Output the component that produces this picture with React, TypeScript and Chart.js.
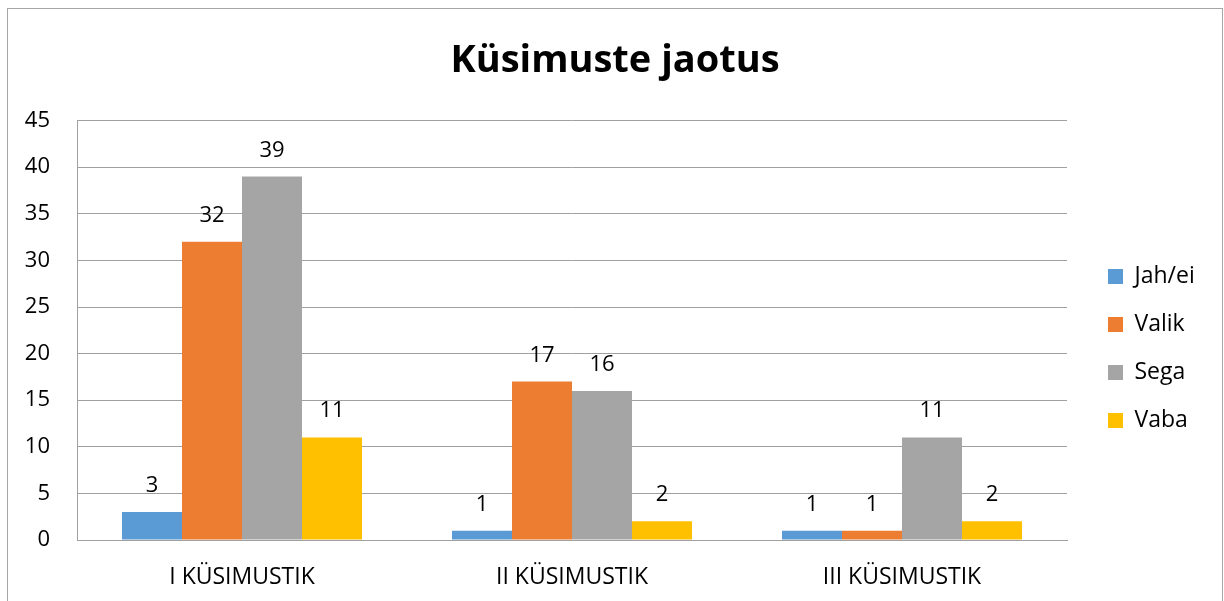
import React, { useEffect, useRef } from "react";
import { Chart, registerables } from "chart.js";

Chart.register(...registerables);

const categories = ["I KÜSIMUSTIK", "II KÜSIMUSTIK", "III KÜSIMUSTIK"];
const seriesNames = ["Jah/ei", "Valik", "Sega", "Vaba"];
const jahEi = [3, 1, 1];
const valik = [32, 17, 1];
const sega = [39, 16, 11];
const vaba = [11, 2, 2];
const seriesColors = ["#5B9BD5", "#ED7D31", "#A5A5A5", "#FFC000"];
const yTicks = [0, 5, 10, 15, 20, 25, 30, 35, 40, 45];

const FONT = "'Open Sans', 'Noto Sans', sans-serif";
const CANVAS_W = 1214;
const CANVAS_H = 592;
const LEGEND_W = 139;

const dataLabelPlugin = {
  id: "dataLabels",
  afterDatasetsDraw(chart: any) {
    const ctx = chart.ctx;
    ctx.save();
    ctx.font = `22px ${FONT}`;
    ctx.fillStyle = "#000000";
    ctx.textAlign = "center";
    ctx.textBaseline = "alphabetic";
    chart.data.datasets.forEach((ds: any, i: number) => {
      const meta = chart.getDatasetMeta(i);
      meta.data.forEach((el: any, j: number) => {
        ctx.fillText(String(ds.data[j]), el.x, el.y - 20);
      });
    });
    ctx.restore();
  },
};

const legendWidthPlugin = {
  id: "legendWidth",
  beforeUpdate(chart: any) {
    const lg = chart.legend;
    if (lg && !lg.__patched) {
      const orig = lg.fit;
      lg.fit = function () {
        orig.call(this);
        if (!this.isHorizontal()) this.width = LEGEND_W;
      };
      lg.__patched = true;
    }
  },
};

export default function App() {
  const ref = useRef<HTMLCanvasElement | null>(null);

  useEffect(() => {
    if (!ref.current) return;
    const seriesData = [jahEi, valik, sega, vaba];
    const chart = new Chart(ref.current, {
      type: "bar",
      data: {
        labels: categories,
        datasets: seriesNames.map((name, i) => ({
          label: name,
          data: seriesData[i],
          backgroundColor: seriesColors[i],
          borderWidth: 0,
          categoryPercentage: 0.7273,
          barPercentage: 1,
        })),
      },
      options: {
        animation: false,
        responsive: false,
        layout: { padding: { left: 0, right: 0, top: 0, bottom: 0 } },
        plugins: {
          title: {
            display: true,
            text: "Küsimuste jaotus",
            color: "#000000",
            font: { family: FONT, size: 38, weight: "bold" },
            padding: { top: 29, bottom: 37 },
          },
          legend: {
            position: "right",
            title: {
              display: true,
              text: " ",
              font: { family: FONT, size: 10 },
              padding: { top: 0, bottom: 75 },
            },
            labels: {
              boxWidth: 15,
              boxHeight: 15,
              padding: 25,
              color: "#000000",
              font: { family: FONT, size: 23 },
            },
          },
          tooltip: { enabled: false },
        },
        scales: {
          x: {
            grid: { display: false, drawTicks: false },
            border: { display: true, color: "#a0a0a0", width: 1 },
            ticks: {
              color: "#000000",
              font: { family: FONT, size: 23 },
              padding: 24,
            },
            afterFit: (scale: any) => {
              scale.height = 61;
            },
          },
          y: {
            min: 0,
            max: 45,
            afterBuildTicks: (scale: any) => {
              scale.ticks = yTicks.map((v) => ({ value: v }));
            },
            grid: { color: "#a0a0a0", lineWidth: 1, drawTicks: false },
            border: { display: true, color: "#a0a0a0", width: 1 },
            ticks: {
              color: "#000000",
              font: { family: FONT, size: 22 },
              padding: 27,
            },
            afterFit: (scale: any) => {
              scale.width = 69;
            },
          },
          spacer: {
            type: "linear",
            position: "right",
            display: true,
            grid: { display: false, drawTicks: false },
            border: { display: false },
            ticks: { display: false },
            afterFit: (scale: any) => {
              scale.width = 16;
            },
          },
        },
      },
      plugins: [dataLabelPlugin, legendWidthPlugin],
    } as any);
    return () => chart.destroy();
  }, []);

  return (
    <div
      style={{
        position: "absolute",
        left: 7,
        top: 8,
        width: 1216,
        height: 593,
        boxSizing: "border-box",
        borderTop: "1px solid #a6a6a6",
        borderLeft: "1px solid #a6a6a6",
        borderRight: "1px solid #a6a6a6",
        background: "#ffffff",
      }}
    >
      <canvas
        ref={ref}
        width={CANVAS_W}
        height={CANVAS_H}
        style={{ display: "block", width: CANVAS_W, height: CANVAS_H }}
      />
    </div>
  );
}
